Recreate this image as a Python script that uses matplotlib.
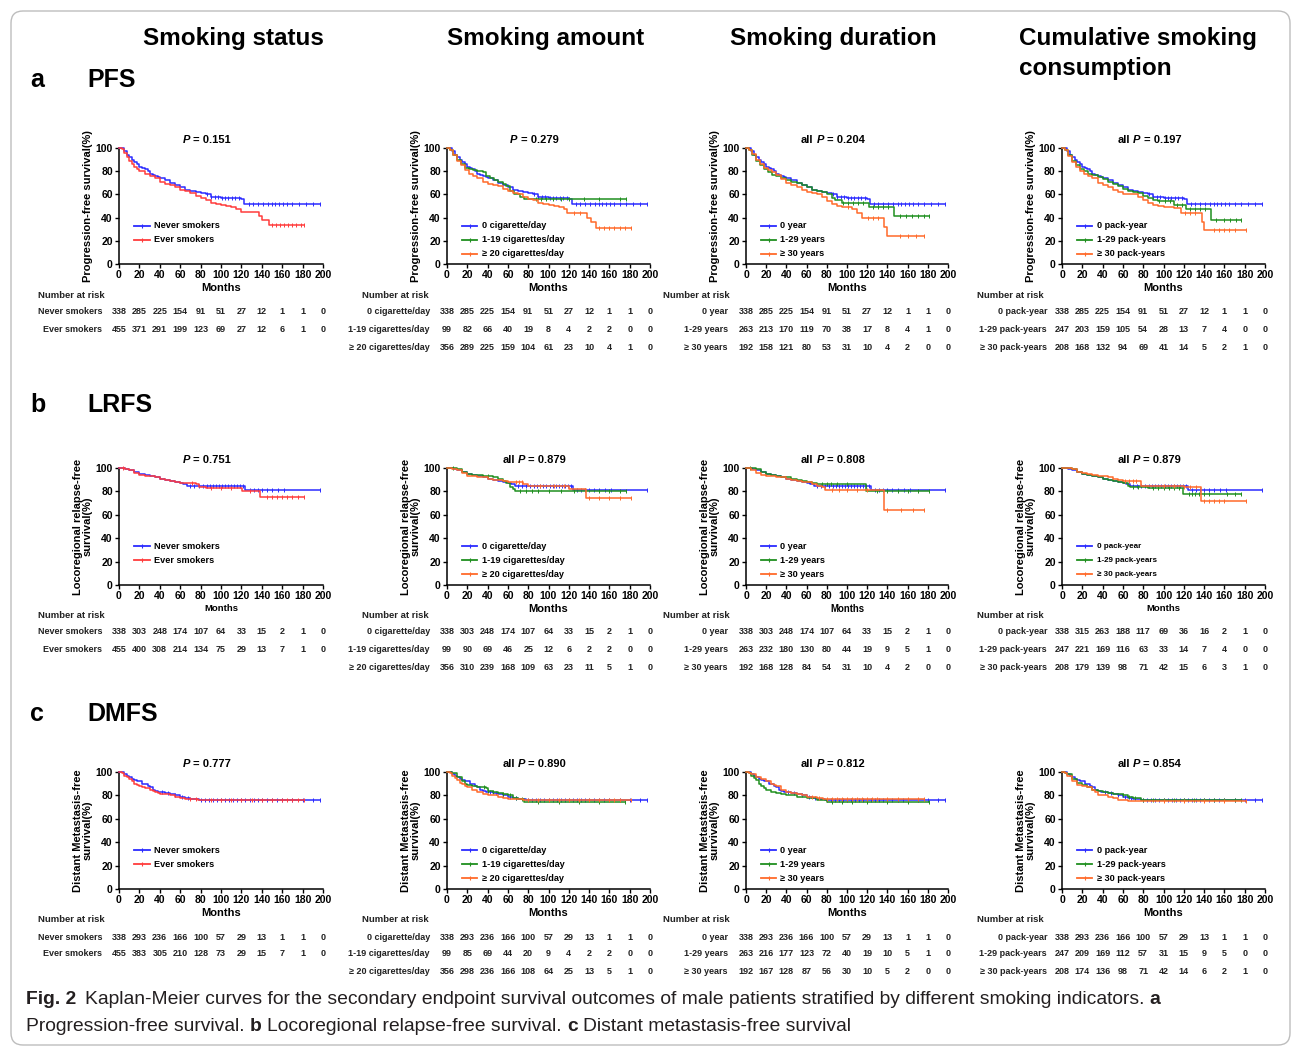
import matplotlib
matplotlib.use('Agg')
import matplotlib.pyplot as plt
import matplotlib.transforms as mtrans
from matplotlib.patches import FancyBboxPatch
import numpy as np

plt.rcParams['font.family'] = ['Liberation Sans', 'DejaVu Sans']
plt.rcParams['font.weight'] = 'bold'
plt.rcParams['axes.labelweight'] = 'bold'

W, H, DPI = 1293, 1048, 100

# ---------------- data ----------------
col_titles = ["Smoking status", "Smoking amount", "Smoking duration"]
col4_title = ["Cumulative smoking", "consumption"]
row_letters = ["a", "b", "c"]
row_names = ["PFS", "LRFS", "DMFS"]
ylabels = ["Progression-free survival(%)",
           "Locoregional relapse-free\nsurvival(%)",
           "Distant Metastasis-free\nsurvival(%)"]
p_prefix = [["", "", "all", "all"], ["", "all", "all", "all"], ["", "all", "all", "all"]]
p_values = [["0.151", "0.279", "0.204", "0.197"],
            ["0.751", "0.879", "0.808", "0.879"],
            ["0.777", "0.890", "0.812", "0.854"]]

labels_status = ["Never smokers", "Ever smokers"]
labels_amount = ["0 cigarette/day", "1-19 cigarettes/day", "\u2265 20 cigarettes/day"]
labels_duration = ["0 year", "1-29 years", "\u2265 30 years"]
labels_cumul = ["0 pack-year", "1-29 pack-years", "\u2265 30 pack-years"]
group_labels = [labels_status, labels_amount, labels_duration, labels_cumul]

risk_times = [0, 20, 40, 60, 80, 100, 120, 140, 160, 180, 200]

# risk tables
pfs_risk_status = [[338, 285, 225, 154, 91, 51, 27, 12, 1, 1, 0], [455, 371, 291, 199, 123, 69, 27, 12, 6, 1, 0]]
pfs_risk_amount = [[338, 285, 225, 154, 91, 51, 27, 12, 1, 1, 0], [99, 82, 66, 40, 19, 8, 4, 2, 2, 0, 0], [356, 289, 225, 159, 104, 61, 23, 10, 4, 1, 0]]
pfs_risk_duration = [[338, 285, 225, 154, 91, 51, 27, 12, 1, 1, 0], [263, 213, 170, 119, 70, 38, 17, 8, 4, 1, 0], [192, 158, 121, 80, 53, 31, 10, 4, 2, 0, 0]]
pfs_risk_cumul = [[338, 285, 225, 154, 91, 51, 27, 12, 1, 1, 0], [247, 203, 159, 105, 54, 28, 13, 7, 4, 0, 0], [208, 168, 132, 94, 69, 41, 14, 5, 2, 1, 0]]
lrfs_risk_status = [[338, 303, 248, 174, 107, 64, 33, 15, 2, 1, 0], [455, 400, 308, 214, 134, 75, 29, 13, 7, 1, 0]]
lrfs_risk_amount = [[338, 303, 248, 174, 107, 64, 33, 15, 2, 1, 0], [99, 90, 69, 46, 25, 12, 6, 2, 2, 0, 0], [356, 310, 239, 168, 109, 63, 23, 11, 5, 1, 0]]
lrfs_risk_duration = [[338, 303, 248, 174, 107, 64, 33, 15, 2, 1, 0], [263, 232, 180, 130, 80, 44, 19, 9, 5, 1, 0], [192, 168, 128, 84, 54, 31, 10, 4, 2, 0, 0]]
lrfs_risk_cumul = [[338, 315, 263, 188, 117, 69, 36, 16, 2, 1, 0], [247, 221, 169, 116, 63, 33, 14, 7, 4, 0, 0], [208, 179, 139, 98, 71, 42, 15, 6, 3, 1, 0]]
dmfs_risk_status = [[338, 293, 236, 166, 100, 57, 29, 13, 1, 1, 0], [455, 383, 305, 210, 128, 73, 29, 15, 7, 1, 0]]
dmfs_risk_amount = [[338, 293, 236, 166, 100, 57, 29, 13, 1, 1, 0], [99, 85, 69, 44, 20, 9, 4, 2, 2, 0, 0], [356, 298, 236, 166, 108, 64, 25, 13, 5, 1, 0]]
dmfs_risk_duration = [[338, 293, 236, 166, 100, 57, 29, 13, 1, 1, 0], [263, 216, 177, 123, 72, 40, 19, 10, 5, 1, 0], [192, 167, 128, 87, 56, 30, 10, 5, 2, 0, 0]]
dmfs_risk_cumul = [[338, 293, 236, 166, 100, 57, 29, 13, 1, 1, 0], [247, 209, 169, 112, 57, 31, 15, 9, 5, 0, 0], [208, 174, 136, 98, 71, 42, 14, 6, 2, 1, 0]]

# ---- PFS curves (time, survival %, censor times)
pfs_never_t = [0, 3, 5, 8, 10, 13, 15, 18, 20, 23, 25, 28, 30, 33, 35, 38, 40, 45, 50, 55, 60, 65, 70, 75, 80, 85, 90, 100, 110, 120, 123, 197]
pfs_never_s = [100, 100, 97, 94, 92, 90, 88, 86, 84, 83, 82, 80, 78, 77, 76, 75, 74, 72, 70, 68, 66, 64, 63, 62, 61, 60, 58, 57, 57, 56, 52, 52]
pfs_never_c = [86, 90, 94, 97, 101, 104, 107, 111, 114, 118, 127, 131, 136, 141, 146, 150, 153, 157, 161, 165, 170, 176, 183, 190, 197]
pfs_ever_t = [0, 3, 5, 8, 10, 13, 15, 18, 20, 25, 30, 35, 40, 45, 50, 55, 60, 65, 70, 75, 80, 85, 90, 95, 100, 105, 110, 115, 120, 135, 137, 140, 147, 181]
pfs_ever_s = [100, 99, 96, 92, 89, 86, 84, 82, 80, 78, 76, 74, 71, 69, 68, 66, 64, 63, 61, 59, 57, 55, 53, 52, 51, 50, 49, 47, 45, 45, 41, 38, 34, 34]
pfs_ever_c = [150, 154, 158, 162, 166, 170, 174, 178, 181]
pfs_c119_t = [0, 3, 6, 10, 14, 18, 22, 26, 30, 35, 38, 42, 46, 50, 55, 58, 62, 66, 72, 76, 176]
pfs_c119_s = [100, 98, 94, 90, 86, 83, 82, 81, 80, 79, 76, 74, 72, 71, 69, 67, 63, 60, 58, 56, 56]
pfs_c119_c = [88, 93, 98, 104, 112, 120, 135, 150, 170, 176]
pfs_c20_t = [0, 3, 6, 10, 14, 18, 22, 26, 30, 35, 40, 45, 50, 55, 60, 65, 70, 75, 80, 85, 90, 95, 100, 105, 110, 115, 118, 137, 138, 142, 147, 181]
pfs_c20_s = [100, 98, 94, 89, 85, 81, 78, 76, 74, 71, 69, 68, 67, 65, 63, 61, 60, 58, 56, 55, 53, 52, 51, 50, 49, 47, 44, 44, 40, 36, 31, 31]
pfs_c20_c = [125, 131, 150, 155, 160, 165, 170, 175, 181]
pfs_d129_t = [0, 3, 6, 10, 14, 18, 22, 26, 30, 35, 40, 45, 50, 55, 60, 65, 70, 75, 80, 85, 88, 95, 122, 147, 181]
pfs_d129_s = [100, 98, 94, 89, 85, 82, 79, 77, 76, 74, 72, 71, 70, 68, 66, 64, 63, 62, 60, 57, 55, 53, 49, 41, 41]
pfs_d129_c = [96, 101, 106, 111, 116, 126, 131, 136, 141, 152, 158, 164, 170, 176, 181]
pfs_d30_t = [0, 3, 6, 10, 14, 18, 22, 26, 30, 35, 40, 45, 50, 55, 60, 65, 70, 75, 80, 85, 90, 95, 100, 105, 110, 115, 137, 140, 176]
pfs_d30_s = [100, 98, 95, 90, 86, 83, 81, 79, 77, 73, 70, 68, 66, 64, 62, 61, 60, 58, 54, 52, 50, 49, 49, 47, 44, 40, 32, 24, 24]
pfs_d30_c = [101, 121, 126, 131, 152, 160, 168, 176]
pfs_p129_t = [0, 3, 6, 10, 14, 18, 22, 26, 30, 35, 40, 45, 50, 55, 60, 65, 70, 75, 80, 85, 90, 95, 110, 122, 147, 176]
pfs_p129_s = [100, 98, 94, 89, 85, 82, 80, 78, 77, 75, 73, 71, 69, 67, 65, 63, 62, 61, 59, 57, 55, 54, 51, 47, 38, 38]
pfs_p129_c = [96, 101, 106, 113, 118, 126, 131, 136, 141, 152, 160, 166, 171, 176]
pfs_p30_t = [0, 3, 6, 10, 14, 18, 22, 26, 30, 35, 40, 45, 50, 55, 60, 75, 80, 85, 90, 95, 100, 110, 117, 138, 140, 181]
pfs_p30_s = [100, 98, 93, 88, 84, 80, 78, 76, 74, 70, 68, 66, 64, 62, 60, 58, 55, 53, 51, 50, 49, 48, 44, 36, 29, 29]
pfs_p30_c = [121, 126, 131, 150, 155, 160, 165, 170, 181]

# ---- LRFS curves
lrfs_never_t = [0, 3, 6, 10, 15, 20, 25, 30, 35, 40, 45, 50, 55, 60, 63, 67, 124, 197]
lrfs_never_s = [100, 100, 99, 98, 97, 95, 94, 93, 92, 91, 90, 89, 88, 87, 86, 85, 81.5, 81.5]
lrfs_never_c = [70, 74, 78, 82, 86, 89, 92, 95, 98, 101, 104, 107, 110, 113, 116, 119, 122, 128, 132, 136, 140, 145, 150, 156, 162, 197]
lrfs_ever_t = [0, 3, 6, 10, 15, 20, 25, 35, 40, 45, 50, 55, 60, 70, 75, 78, 85, 121, 138, 181]
lrfs_ever_s = [100, 100, 99, 98, 96, 94, 93, 92, 91, 90, 89, 88, 87, 87, 86, 84, 83, 80, 75, 75]
lrfs_ever_c = [4, 72, 90, 100, 110, 128, 145, 150, 155, 160, 165, 170, 175, 181]
lrfs_c119_t = [0, 5, 10, 15, 20, 25, 35, 45, 50, 55, 58, 62, 65, 67, 176]
lrfs_c119_s = [100, 100, 99, 97, 95, 94, 93, 92, 91, 89, 87, 84, 82, 80, 80]
lrfs_c119_c = [6, 40, 72, 78, 84, 90, 100, 112, 125, 150, 160, 170, 176]
lrfs_c20_t = [0, 5, 10, 15, 20, 30, 40, 45, 55, 60, 75, 80, 120, 137, 181]
lrfs_c20_s = [100, 99, 98, 96, 93, 92, 91, 90, 89, 88, 86, 85, 82, 74, 74]
lrfs_c20_c = [68, 71, 74, 92, 105, 115, 140, 150, 160, 170, 181]
lrfs_d129_t = [0, 5, 10, 15, 20, 25, 30, 35, 40, 45, 50, 55, 60, 65, 70, 119, 181]
lrfs_d129_s = [100, 100, 99, 97, 95, 94, 93, 92, 92, 91, 90, 89, 88, 87, 86, 80, 80]
lrfs_d129_c = [4, 75, 80, 84, 90, 100, 130, 140, 150, 160, 170, 181]
lrfs_d30_t = [0, 5, 10, 15, 20, 30, 40, 45, 50, 55, 60, 65, 70, 75, 78, 137, 176]
lrfs_d30_s = [100, 98, 96, 94, 93, 92, 91, 90, 89, 88, 88, 86, 85, 84, 81, 64, 64]
lrfs_d30_c = [85, 92, 100, 110, 120, 140, 153, 165, 176]
lrfs_p129_t = [0, 5, 10, 15, 20, 25, 30, 35, 40, 45, 50, 55, 60, 65, 67, 85, 119, 176]
lrfs_p129_s = [100, 100, 99, 97, 95, 94, 93, 92, 91, 90, 89, 88, 87, 85, 84, 83, 77.5, 77.5]
lrfs_p129_c = [70, 75, 90, 95, 100, 105, 110, 115, 125, 128, 131, 135, 140, 145, 163, 170, 176]
lrfs_p30_t = [0, 10, 15, 20, 25, 30, 35, 45, 50, 55, 60, 78, 120, 137, 181]
lrfs_p30_s = [100, 99, 97, 96, 95, 94, 93, 92, 91, 90, 89, 85, 84, 72, 72]
lrfs_p30_c = [62, 66, 70, 73, 100, 110, 120, 126, 132, 140, 145, 150, 155, 160, 181]

# ---- DMFS curves
dmfs_never_t = [0, 3, 5, 8, 10, 13, 15, 18, 20, 23, 25, 28, 30, 33, 35, 38, 40, 45, 50, 55, 60, 65, 70, 78, 197]
dmfs_never_s = [100, 100, 98, 97, 96, 94, 93, 92, 92, 90, 90, 88, 87, 85, 84, 83, 83, 82, 81, 80, 79, 78, 77, 76, 76]
dmfs_never_c = [42, 48, 55, 62, 68, 80, 84, 88, 92, 96, 100, 104, 108, 112, 116, 120, 124, 128, 132, 136, 140, 145, 150, 155, 160, 170, 180, 190, 197]
dmfs_ever_t = [0, 3, 5, 8, 10, 13, 15, 18, 20, 23, 25, 30, 33, 35, 38, 40, 50, 55, 60, 65, 77, 181]
dmfs_ever_s = [100, 99, 97, 96, 94, 92, 90, 89, 88, 87, 86, 85, 84, 83, 82, 81, 80, 79, 78, 77, 76, 76]
dmfs_ever_c = [70, 75, 90, 100, 110, 120, 130, 140, 150, 160, 165, 170, 175, 181]
dmfs_c119_t = [0, 5, 10, 15, 18, 20, 25, 30, 38, 40, 45, 50, 55, 60, 65, 70, 76, 175]
dmfs_c119_s = [100, 99, 96, 92, 90, 89, 88, 87, 86, 84, 83, 82, 81, 80, 78, 77, 74.5, 74.5]
dmfs_c119_c = [36, 40, 45, 55, 62, 68, 74, 90, 110, 130, 150, 175]
dmfs_c20_t = [0, 3, 5, 8, 10, 13, 15, 18, 20, 25, 30, 35, 40, 50, 55, 60, 75, 181]
dmfs_c20_s = [100, 99, 97, 95, 93, 91, 90, 88, 87, 85, 83, 81, 80, 79, 78, 77, 76, 76]
dmfs_c20_c = [80, 90, 100, 110, 120, 130, 140, 150, 160, 165, 170, 181]
dmfs_d129_t = [0, 3, 5, 8, 10, 13, 15, 18, 20, 25, 30, 35, 40, 50, 60, 70, 80, 181]
dmfs_d129_s = [100, 99, 97, 95, 93, 90, 88, 86, 85, 83, 82, 81, 80, 79, 78, 76, 74.5, 74.5]
dmfs_d129_c = [85, 95, 105, 120, 140, 160, 181]
dmfs_d30_t = [0, 3, 5, 10, 15, 20, 25, 28, 30, 35, 40, 45, 50, 55, 60, 70, 76, 176]
dmfs_d30_s = [100, 99, 98, 96, 94, 92, 90, 89, 88, 85, 83, 82, 81, 80, 79, 78, 77, 77]
dmfs_d30_c = [65, 72, 80, 85, 90, 95, 100, 105, 110, 115, 120, 125, 130, 140, 150, 160, 170, 176]
dmfs_p129_t = [0, 3, 5, 10, 15, 20, 25, 30, 35, 40, 45, 50, 60, 65, 70, 78, 176]
dmfs_p129_s = [100, 99, 98, 94, 91, 89, 87, 85, 84, 83, 82, 81, 80, 79, 78, 76, 76]
dmfs_p129_c = [60, 66, 72, 80, 90, 100, 110, 120, 130, 140, 150, 160, 170, 176]
dmfs_p30_t = [0, 3, 5, 10, 15, 20, 25, 30, 33, 35, 45, 50, 55, 65, 181]
dmfs_p30_s = [100, 99, 97, 92, 89, 88, 87, 85, 83, 80, 79, 78, 76, 75, 75]
dmfs_p30_c = [100, 120, 140, 160, 181]

# ---------------- styling ----------------
BLUE, RED, GREEN, ORANGE = '#2b2bff', '#ff3c3c', '#1f8f1f', '#ff6a2a'
status_colors = [BLUE, RED]
other_colors = [BLUE, GREEN, ORANGE]

PFS_never = (pfs_never_t, pfs_never_s, pfs_never_c)
LRFS_never = (lrfs_never_t, lrfs_never_s, lrfs_never_c)
DMFS_never = (dmfs_never_t, dmfs_never_s, dmfs_never_c)

panels = [
    [[PFS_never, (pfs_ever_t, pfs_ever_s, pfs_ever_c)],
     [PFS_never, (pfs_c119_t, pfs_c119_s, pfs_c119_c), (pfs_c20_t, pfs_c20_s, pfs_c20_c)],
     [PFS_never, (pfs_d129_t, pfs_d129_s, pfs_d129_c), (pfs_d30_t, pfs_d30_s, pfs_d30_c)],
     [PFS_never, (pfs_p129_t, pfs_p129_s, pfs_p129_c), (pfs_p30_t, pfs_p30_s, pfs_p30_c)]],
    [[LRFS_never, (lrfs_ever_t, lrfs_ever_s, lrfs_ever_c)],
     [LRFS_never, (lrfs_c119_t, lrfs_c119_s, lrfs_c119_c), (lrfs_c20_t, lrfs_c20_s, lrfs_c20_c)],
     [LRFS_never, (lrfs_d129_t, lrfs_d129_s, lrfs_d129_c), (lrfs_d30_t, lrfs_d30_s, lrfs_d30_c)],
     [LRFS_never, (lrfs_p129_t, lrfs_p129_s, lrfs_p129_c), (lrfs_p30_t, lrfs_p30_s, lrfs_p30_c)]],
    [[DMFS_never, (dmfs_ever_t, dmfs_ever_s, dmfs_ever_c)],
     [DMFS_never, (dmfs_c119_t, dmfs_c119_s, dmfs_c119_c), (dmfs_c20_t, dmfs_c20_s, dmfs_c20_c)],
     [DMFS_never, (dmfs_d129_t, dmfs_d129_s, dmfs_d129_c), (dmfs_d30_t, dmfs_d30_s, dmfs_d30_c)],
     [DMFS_never, (dmfs_p129_t, dmfs_p129_s, dmfs_p129_c), (dmfs_p30_t, dmfs_p30_s, dmfs_p30_c)]],
]
risks = [
    [pfs_risk_status, pfs_risk_amount, pfs_risk_duration, pfs_risk_cumul],
    [lrfs_risk_status, lrfs_risk_amount, lrfs_risk_duration, lrfs_risk_cumul],
    [dmfs_risk_status, dmfs_risk_amount, dmfs_risk_duration, dmfs_risk_cumul],
]

# layout in pixels (top-left origin)
col_x0 = [119, 447, 746, 1062]
col_x1 = [323, 650, 948, 1265]
row_top = [148, 468, 772]
row_bot = [264, 585, 889]
risk_head_y = [295, 615, 920]
risk_rows_y = [[312, 329, 347], [632, 649, 667], [937, 954, 971]]
risk_head_x = [38, 362, 663, 977]
risk_label_right = [102, 430, 728, 1047]
months_fs = [[8, 8, 8, 8], [6.8, 8, 6.9, 6.8], [8, 8, 8, 8]]
legend_fs = [[6.6, 6.6, 6.6, 6.6], [6.6, 6.6, 6.6, 5.8], [6.6, 6.6, 6.6, 6.6]]
legend_y = [33, 21, 9]

fig = plt.figure(figsize=(W / DPI, H / DPI), dpi=DPI)
renderer = fig.canvas.get_renderer()
ident = mtrans.IdentityTransform()

# border
border = FancyBboxPatch((11, 3), 1279, 1034, boxstyle="round,pad=0,rounding_size=12",
                        transform=ident, facecolor='none', edgecolor='#bdbdbd', linewidth=1.0)
fig.patches.append(border)


def rich(pieces, x, y, size, ha='left', color='black', gap=0.28):
    arts, ws = [], []
    for txt, wt, st, nsp in pieces:
        t = fig.text(0, 0, txt, fontsize=size, fontweight=wt, fontstyle=st, color=color,
                     transform=ident, va='baseline', ha='left')
        ws.append(t.get_window_extent(renderer).width)
        arts.append(t)
    sp = size * DPI / 72 * gap
    total = sum(ws) + sum(p[3] for p in pieces) * sp
    cur = x - total / 2 if ha == 'center' else x
    for t, w, p in zip(arts, ws, pieces):
        cur += p[3] * sp
        t.set_position((cur, y))
        cur += w
    return arts, total


def fx(x):
    return x / W


def fy(y):
    return 1 - y / H


# column titles
for x, title in zip([233, 546, 833], col_titles):
    fig.text(fx(x), fy(38), title, fontsize=17.5, fontweight='bold', ha='center', va='center')
fig.text(fx(1019), fy(38), col4_title[0], fontsize=17.5, fontweight='bold', ha='left', va='center')
fig.text(fx(1019), fy(68), col4_title[1], fontsize=17.5, fontweight='bold', ha='left', va='center')

# row headings
for letter, name, y in zip(row_letters, row_names, [80, 405, 714]):
    fig.text(fx(30), fy(y), letter, fontsize=18, fontweight='bold', ha='left', va='center')
    fig.text(fx(87), fy(y), name, fontsize=18, fontweight='bold', ha='left', va='center')

for r in range(3):
    for c in range(4):
        x0, x1 = col_x0[c], col_x1[c]
        yt, yb = row_top[r], row_bot[r]
        ax = fig.add_axes([fx(x0), fy(yb), (x1 - x0) / W, (yb - yt) / H])
        ax.set_xlim(0, 200)
        ax.set_ylim(0, 100)
        ax.set_xticks(risk_times)
        ax.set_yticks([0, 20, 40, 60, 80, 100])
        for s in ['top', 'right']:
            ax.spines[s].set_visible(False)
        for s in ['left', 'bottom']:
            ax.spines[s].set_linewidth(1.1)
        ax.tick_params(direction='out', length=3, width=1.0, labelsize=7.5, pad=1.5)
        for lbl in ax.get_xticklabels() + ax.get_yticklabels():
            lbl.set_fontweight('bold')
        ax.set_ylabel(ylabels[r], fontsize=8, fontweight='bold', labelpad=2, linespacing=1.0)
        ax.set_xlabel("Months", fontsize=months_fs[r][c], fontweight='bold', labelpad=2)
        ax.patch.set_alpha(0)

        colors = status_colors if c == 0 else other_colors
        curves = panels[r][c]
        labels = group_labels[c]
        for (t, s, cens), col in zip(curves, colors):
            ax.step(t, s, where='post', color=col, lw=1.1, clip_on=False, zorder=3)
            ta = np.asarray(t)
            sa = np.asarray(s)
            idx = np.searchsorted(ta, np.asarray(cens), side='right') - 1
            idx = np.clip(idx, 0, len(sa) - 1)
            ax.plot(cens, sa[idx], linestyle='none', marker='|', ms=3.5, mew=0.7,
                    color=col, clip_on=False, zorder=3)
        # legend
        for k, (lab, col) in enumerate(zip(labels, colors)):
            yy = legend_y[k]
            ax.plot([15, 30], [yy, yy], color=col, lw=1.3)
            ax.plot([22.5], [yy], marker='|', ms=3.5, mew=0.8, color=col)
            ax.text(34, yy, lab, fontsize=legend_fs[r][c], fontweight='bold', va='center', ha='left')

        # P value
        disp = ax.transData.transform((86, 100))
        base_y = H - (yt - 9) - 4
        pieces = []
        if p_prefix[r][c]:
            pieces.append((p_prefix[r][c], 'bold', 'normal', 0))
            pieces.append(("P", 'bold', 'italic', 1))
        else:
            pieces.append(("P", 'bold', 'italic', 0))
        pieces.append(("= " + p_values[r][c], 'bold', 'normal', 1))
        rich(pieces, disp[0], base_y, 8, ha='center')

        # risk table
        bt = mtrans.blended_transform_factory(ax.transData, fig.transFigure)
        fig.text(fx(risk_head_x[c]), fy(risk_head_y[r]), "Number at risk", fontsize=6.8,
                 fontweight='bold', ha='left', va='center', color='#222222')
        for k, (lab, vals) in enumerate(zip(labels, risks[r][c])):
            yy = risk_rows_y[r][k]
            fig.text(fx(risk_label_right[c]), fy(yy), lab, fontsize=6.5, fontweight='bold',
                     ha='right', va='center', color='#222222')
            for tt, v in zip(risk_times, vals):
                fig.text(tt, fy(yy), str(v), transform=bt, fontsize=6.5, fontweight='bold',
                         ha='center', va='center', color='#222222')

# caption
cap_color = '#231f20'
line1 = [("Fig. 2", 'bold', 'normal', 0),
         ("Kaplan-Meier curves for the secondary endpoint survival outcomes of male patients stratified by different smoking indicators.", 'normal', 'normal', 1.6),
         ("a", 'bold', 'normal', 1)]
arts, tot = rich(line1, 26, H - 1004, 12, color=cap_color)
scale = 1137 / tot
for a in arts:
    a.remove()
cap_fs = 12 * scale
rich(line1, 26, H - 1004, cap_fs, color=cap_color)
line2 = [("Progression-free survival.", 'normal', 'normal', 0),
         ("b", 'bold', 'normal', 1),
         ("Locoregional relapse-free survival.", 'normal', 'normal', 1),
         ("c", 'bold', 'normal', 1),
         ("Distant metastasis-free survival", 'normal', 'normal', 1)]
rich(line2, 26, H - 1031, cap_fs, color=cap_color)

fig.savefig('out.png', dpi=DPI)
